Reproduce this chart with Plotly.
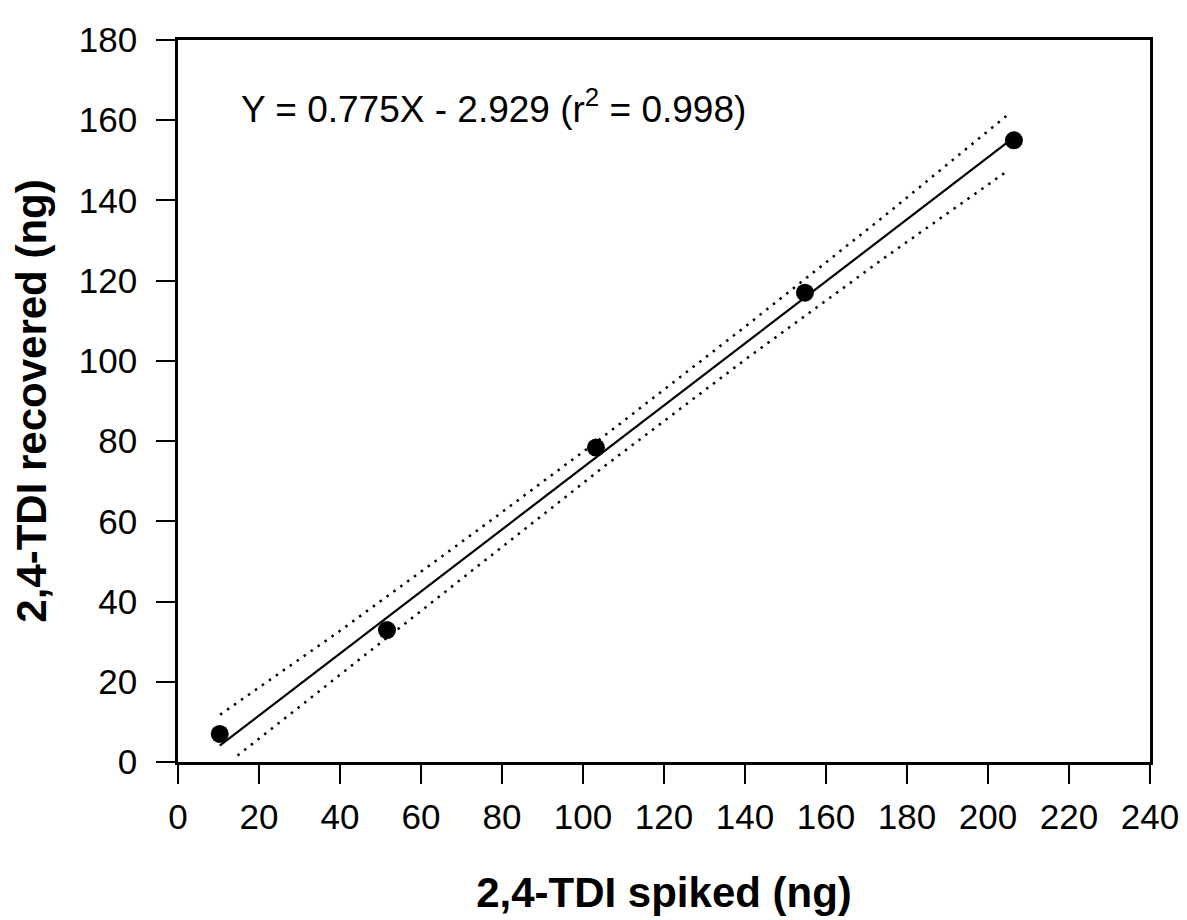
import plotly.graph_objects as go

# Data
spiked = [10.3, 51.6, 103.2, 154.8, 206.4]
recovered = [7.0, 32.9, 78.4, 117.0, 155.0]

fit_x = [10.3, 206.4]
fit_y = [4.1, 155.7]

upper_x = [10.4, 40, 75.9, 105, 140, 175, 205.3]
upper_y = [11.8, 32.7, 59.2, 81.1, 108.5, 136.6, 161.7]

lower_x = [14.7, 40, 77.6, 105, 140, 175, 205.0]
lower_y = [1.6, 21.7, 51.7, 73.5, 100.3, 126.1, 147.5]

x_ticks = list(range(0, 241, 20))
y_ticks = list(range(0, 181, 20))

equation = "Y = 0.775X - 2.929 (r<sup>2</sup> = 0.998)"

FONT = "Liberation Sans, Arial, sans-serif"

fig = go.Figure()
fig.add_trace(go.Scatter(x=upper_x, y=upper_y, mode="lines",
                         line=dict(color="black", width=2.5, dash="2.5px,6px"),
                         showlegend=False, hoverinfo="skip"))
fig.add_trace(go.Scatter(x=lower_x, y=lower_y, mode="lines",
                         line=dict(color="black", width=2.5, dash="2.5px,6px"),
                         showlegend=False, hoverinfo="skip"))
fig.add_trace(go.Scatter(x=fit_x, y=fit_y, mode="lines",
                         line=dict(color="black", width=2.2),
                         showlegend=False))
fig.add_trace(go.Scatter(x=spiked, y=recovered, mode="markers",
                         marker=dict(color="black", size=18, symbol="circle"),
                         showlegend=False))

fig.add_annotation(x=15.0, y=163.4, xref="x", yref="y", text=equation,
                   showarrow=False, xanchor="left", yanchor="middle",
                   font=dict(family=FONT, size=37, color="black"))

axis_common = dict(showgrid=False, zeroline=False, showline=True, linecolor="black",
                   linewidth=2.5, mirror=True, ticks="outside", ticklen=19, tickwidth=2,
                   tickcolor="black", tickfont=dict(family=FONT, size=35, color="black"))

fig.update_xaxes(range=[0, 240], tickvals=x_ticks, ticktext=[str(v) for v in x_ticks],
                 title=dict(text="<b>2,4-TDI spiked (ng)</b>", standoff=43,
                            font=dict(family=FONT, size=42, color="black")),
                 ticklabelstandoff=3, **axis_common)
fig.update_yaxes(range=[0, 180], tickvals=y_ticks, ticktext=[str(v) for v in y_ticks],
                 title=dict(text="<b>2,4-TDI recovered (ng)</b>", standoff=27,
                            font=dict(family=FONT, size=42, color="black")),
                 ticklabelstandoff=12, **axis_common)

fig.update_layout(width=1187, height=920, plot_bgcolor="white", paper_bgcolor="white",
                  margin=dict(l=170, r=45, t=22, b=166),
                  font=dict(family=FONT, color="black"))

fig.write_html("out.html")
